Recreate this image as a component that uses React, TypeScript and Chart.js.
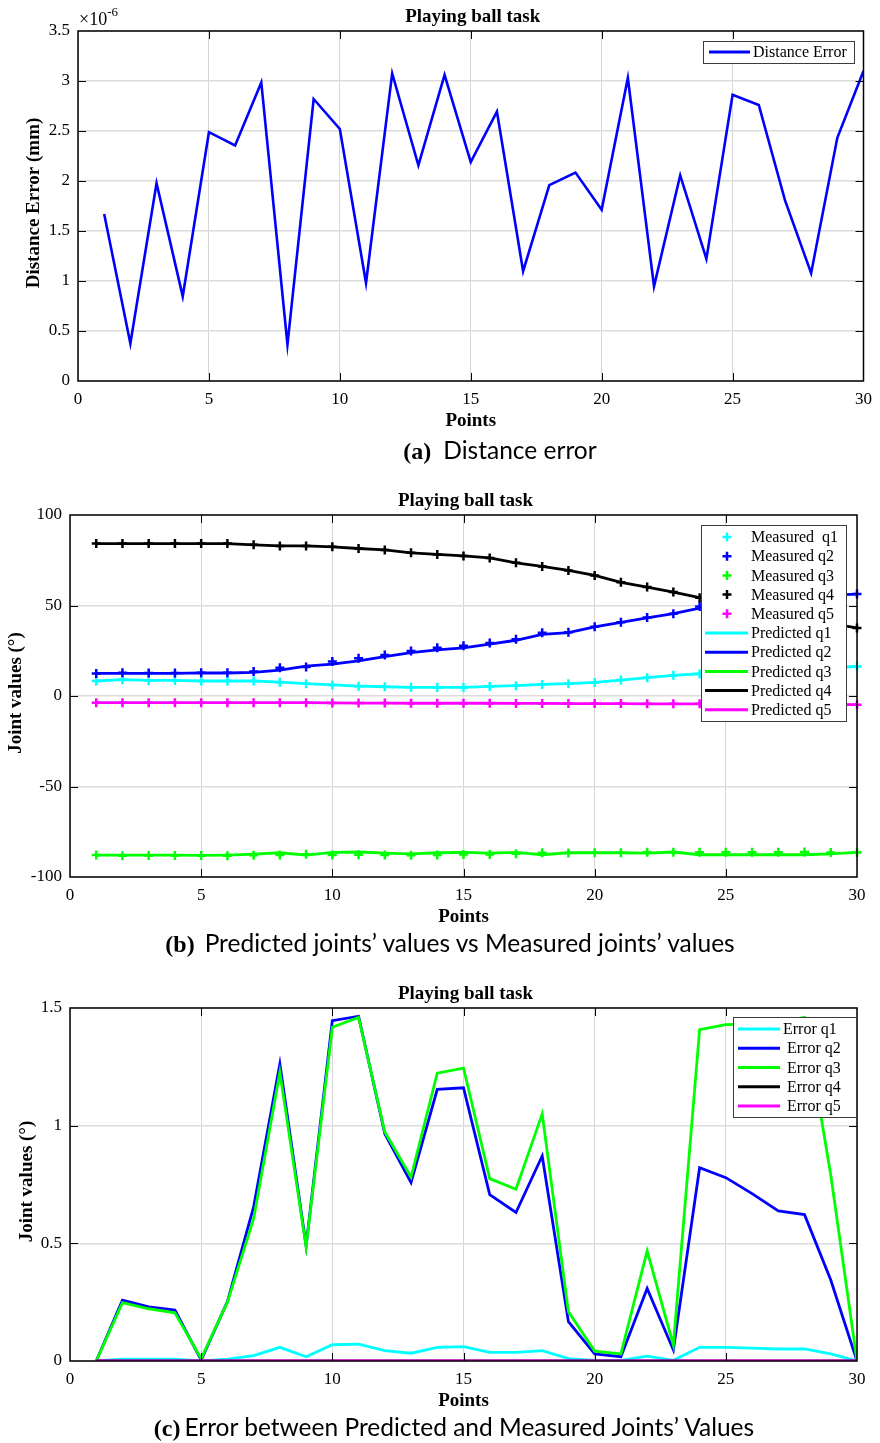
import React, { useEffect, useRef } from "react";
import { Chart, registerables } from "chart.js";

Chart.register(...registerables);

// ---------------- DATA ----------------
const POINTS = [
  1, 2, 3, 4, 5, 6, 7, 8, 9, 10, 11, 12, 13, 14, 15, 16, 17, 18, 19, 20, 21, 22, 23, 24, 25, 26, 27, 28, 29, 30,
];

// (a) Distance error, in units of 1e-6 mm
const distanceError = [
  1.67, 0.375, 1.977, 0.846, 2.488, 2.356, 2.986, 0.365, 2.82, 2.52, 0.98, 3.076, 2.157, 3.062, 2.19, 2.694, 1.098,
  1.958, 2.084, 1.712, 3.03, 0.946, 2.057, 1.221, 2.863, 2.76, 1.808, 1.078, 2.432, 3.1,
];
const A_Y_TICKS = { min: 0, max: 3.5, step: 0.5 };

// (b) Joint values (degrees)
const predQ1 = [
  8.3, 9.0, 8.6, 8.6, 8.3, 8.3, 8.3, 7.7, 6.8, 6.2, 5.5, 5.1, 4.8, 4.8, 4.8, 5.3, 5.7, 6.4, 6.8, 7.5, 8.8, 10.1, 11.4,
  12.3, 13.0, 13.7, 14.4, 15.0, 15.7, 16.3,
];
const measQ1 = [
  8.3, 9.0, 8.6, 8.6, 8.3, 8.3, 8.3, 7.6, 6.8, 6.1, 5.4, 5.1, 4.8, 4.7, 4.7, 5.3, 5.7, 6.4, 6.8, 7.5, 8.8, 10.1, 11.4,
  12.2, 12.9, 13.6, 14.3, 15.0, 15.7, 16.3,
];
const predQ2 = [
  12.5, 12.5, 12.5, 12.5, 12.8, 12.7, 13.0, 14.3, 16.5, 17.6, 19.4, 21.7, 24.0, 25.5, 26.6, 28.6, 30.8, 34.0, 35.0,
  38.2, 40.7, 43.1, 45.5, 48.6, 50.5, 52.1, 53.5, 54.8, 55.7, 56.3,
];
const measQ2 = [
  12.5, 12.8, 12.7, 12.7, 12.8, 12.9, 13.6, 15.6, 16.0, 19.0, 20.9, 22.7, 24.8, 26.7, 27.8, 29.3, 31.4, 34.9, 35.2,
  38.2, 40.7, 43.4, 45.5, 49.4, 51.3, 52.8, 54.1, 55.4, 56.0, 56.3,
];
const predQ3 = [
  -87.9, -87.9, -87.9, -87.9, -88.1, -87.9, -87.4, -86.6, -87.9, -86.4, -86.2, -86.8, -87.2, -86.6, -86.4, -86.8,
  -86.4, -87.7, -86.6, -86.6, -86.6, -86.8, -86.2, -87.7, -87.7, -87.7, -87.7, -87.7, -87.2, -86.4,
];
const measQ3 = [
  -87.9, -88.2, -88.1, -88.1, -88.1, -88.2, -88.0, -87.8, -87.4, -87.8, -87.7, -87.8, -88.0, -87.8, -87.6, -87.6,
  -87.1, -86.6, -86.8, -86.6, -86.6, -86.3, -86.3, -86.3, -86.3, -86.3, -86.3, -86.2, -86.4, -86.4,
];
const predQ4 = [
  84.2, 84.2, 84.2, 84.2, 84.2, 84.2, 83.5, 82.9, 82.9, 82.4, 81.5, 80.7, 79.1, 78.2, 77.4, 76.3, 73.6, 71.6, 69.4,
  66.6, 62.8, 60.2, 57.4, 54.3, 51.2, 48.3, 45.5, 42.6, 40.0, 37.6,
];
const measQ4 = [
  84.2, 84.2, 84.2, 84.2, 84.2, 84.2, 83.5, 82.9, 82.9, 82.4, 81.5, 80.7, 79.1, 78.2, 77.4, 76.3, 73.6, 71.6, 69.4,
  66.6, 62.8, 60.2, 57.4, 54.3, 51.2, 48.3, 45.5, 42.6, 40.0, 37.6,
];
const predQ5 = [
  -3.7, -3.7, -3.7, -3.7, -3.7, -3.7, -3.7, -3.7, -3.7, -3.8, -3.9, -3.9, -4.0, -4.0, -4.0, -4.0, -4.1, -4.1, -4.2,
  -4.2, -4.2, -4.3, -4.3, -4.3, -4.4, -4.5, -4.5, -4.6, -4.7, -4.8,
];
const measQ5 = [
  -3.7, -3.7, -3.7, -3.7, -3.7, -3.7, -3.7, -3.7, -3.7, -3.8, -3.9, -3.9, -4.0, -4.0, -4.0, -4.0, -4.1, -4.1, -4.2,
  -4.2, -4.2, -4.3, -4.3, -4.3, -4.4, -4.5, -4.5, -4.6, -4.7, -4.8,
];
const B_Y_TICKS = { min: -100, max: 100, step: 50 };

// (c) Errors (degrees)
const errQ1 = [
  0, 0.008, 0.008, 0.008, 0, 0.008, 0.023, 0.058, 0.018, 0.069, 0.072, 0.044, 0.033, 0.058, 0.061, 0.037, 0.037, 0.044,
  0.01, 0.003, 0.003, 0.021, 0.003, 0.058, 0.058, 0.055, 0.051, 0.051, 0.03, 0,
];
const errQ2 = [
  0, 0.259, 0.23, 0.216, 0.004, 0.252, 0.655, 1.262, 0.49, 1.446, 1.465, 0.966, 0.758, 1.154, 1.161, 0.707, 0.631,
  0.871, 0.167, 0.03, 0.018, 0.308, 0.047, 0.821, 0.779, 0.711, 0.638, 0.622, 0.344, 0,
];
const errQ3 = [
  0, 0.248, 0.222, 0.205, 0.01, 0.25, 0.605, 1.227, 0.485, 1.418, 1.46, 0.973, 0.782, 1.223, 1.245, 0.775, 0.73, 1.05,
  0.209, 0.042, 0.03, 0.468, 0.068, 1.408, 1.429, 1.432, 1.44, 1.46, 0.79, 0,
];
const errQ4 = [
  0, 0, 0, 0, 0, 0, 0, 0, 0, 0, 0, 0, 0, 0, 0, 0, 0, 0, 0, 0, 0, 0, 0, 0, 0, 0, 0, 0, 0, 0,
];
const errQ5 = [
  0, 0, 0, 0, 0, 0, 0, 0, 0, 0, 0, 0, 0, 0, 0, 0, 0, 0, 0, 0, 0, 0, 0, 0, 0, 0, 0, 0, 0, 0,
];
const C_Y_TICKS = { min: 0, max: 1.5, step: 0.5 };

const X_TICKS = { min: 0, max: 30, step: 5 };

const CHART_TITLE = "Playing ball task";
const X_TITLE = "Points";

const COLORS = ["#00ffff", "#0000ff", "#00ff00", "#000000", "#ff00ff"];

// ---------------- HELPERS ----------------
const SERIF = "'Liberation Serif', 'Times New Roman', serif";

const pts = (ys: number[]) => POINTS.map((x, i) => ({ x, y: ys[i] }));

type LegendItem = { kind: "line" | "marker"; color: string; label: string; textX?: number };
type LegendSpec = {
  x: number;
  y: number;
  w: number;
  h: number;
  firstRow: number;
  rowH: number;
  lineX0: number;
  lineX1: number;
  markX: number;
  textX: number;
  items: LegendItem[];
};

type Spec = {
  canvasH: number;
  area: { top: number; left: number; right: number; bottom: number };
  yTicks: { min: number; max: number; step: number };
  yTitle: string;
  yTitleX: number;
  datasets: any[];
  legend: LegendSpec;
  exponent?: boolean;
};

function drawCross(ctx: CanvasRenderingContext2D, x: number, y: number, r: number) {
  ctx.beginPath();
  ctx.moveTo(x - r, y);
  ctx.lineTo(x + r, y);
  ctx.moveTo(x, y - r);
  ctx.lineTo(x, y + r);
  ctx.stroke();
}

function makePlugin(spec: Spec) {
  return {
    id: "matlabFrame",
    afterDatasetsDraw(chart: any) {
      const { ctx, chartArea, scales } = chart;
      const { left, right, top, bottom } = chartArea;
      ctx.save();
      ctx.strokeStyle = "#000";
      ctx.lineWidth = 1;
      const TL = 8;
      scales.x.ticks.forEach((t: any) => {
        const px = Math.round(scales.x.getPixelForValue(t.value)) + 0.5;
        if (px <= left + 1 || px >= right - 1) return;
        ctx.beginPath();
        ctx.moveTo(px, bottom);
        ctx.lineTo(px, bottom - TL);
        ctx.moveTo(px, top);
        ctx.lineTo(px, top + TL);
        ctx.stroke();
      });
      scales.y.ticks.forEach((t: any) => {
        const py = Math.round(scales.y.getPixelForValue(t.value)) + 0.5;
        if (py <= top + 1 || py >= bottom - 1) return;
        ctx.beginPath();
        ctx.moveTo(left, py);
        ctx.lineTo(left + TL, py);
        ctx.moveTo(right, py);
        ctx.lineTo(right - TL, py);
        ctx.stroke();
      });
      ctx.lineWidth = 1.5;
      ctx.strokeRect(left, top, right - left, bottom - top);
      ctx.restore();
    },
    afterDraw(chart: any) {
      const { ctx, chartArea } = chart;
      const { left, right, top, bottom } = chartArea;
      const cx = (left + right) / 2;
      const cy = (top + bottom) / 2;
      ctx.save();
      ctx.fillStyle = "#000";
      ctx.textAlign = "center";
      ctx.textBaseline = "middle";
      ctx.font = `bold 19px ${SERIF}`;
      ctx.fillText(CHART_TITLE, cx + 2, top - 14);
      ctx.fillText(X_TITLE, cx, bottom + 40);
      ctx.save();
      ctx.translate(spec.yTitleX, cy - 3);
      ctx.rotate(-Math.PI / 2);
      ctx.fillText(spec.yTitle, 0, 0);
      ctx.restore();

      if (spec.exponent) {
        ctx.textAlign = "left";
        ctx.textBaseline = "alphabetic";
        ctx.fillStyle = "#000";
        ctx.font = `18px ${SERIF}`;
        const base = "\u00d710";
        ctx.fillText(base, left + 1, top - 6);
        const w = ctx.measureText(base).width;
        ctx.font = `13px ${SERIF}`;
        ctx.fillText("-6", left + 1 + w, top - 15);
      }

      // legend
      const L = spec.legend;
      ctx.fillStyle = "#fff";
      ctx.fillRect(L.x, L.y, L.w, L.h);
      ctx.strokeStyle = "#3c3c3c";
      ctx.lineWidth = 1;
      ctx.strokeRect(L.x + 0.5, L.y + 0.5, L.w, L.h);
      ctx.font = `16px ${SERIF}`;
      ctx.textAlign = "left";
      ctx.textBaseline = "middle";
      L.items.forEach((it, i) => {
        const ry = L.y + L.firstRow + i * L.rowH;
        ctx.strokeStyle = it.color;
        if (it.kind === "line") {
          ctx.lineWidth = 3;
          ctx.beginPath();
          ctx.moveTo(L.lineX0, ry);
          ctx.lineTo(L.lineX1, ry);
          ctx.stroke();
        } else {
          ctx.lineWidth = 2.5;
          drawCross(ctx, L.markX, ry, 4.5);
        }
        ctx.fillStyle = "#000";
        ctx.fillText(it.label, it.textX ?? L.textX, ry + 1);
      });
      ctx.restore();
    },
  };
}

function makeConfig(spec: Spec): any {
  const { area, canvasH, yTicks } = spec;
  const tickFont = { family: SERIF, size: 17 };
  return {
    type: "line",
    data: { datasets: spec.datasets },
    plugins: [makePlugin(spec)],
    options: {
      animation: false,
      responsive: false,
      devicePixelRatio: 1,
      events: [],
      layout: { padding: { top: area.top, left: 0, right: 880 - area.right, bottom: 0 } },
      plugins: { legend: { display: false }, tooltip: { enabled: false }, title: { display: false } },
      scales: {
        x: {
          type: "linear",
          min: X_TICKS.min,
          max: X_TICKS.max,
          ticks: {
            stepSize: X_TICKS.step,
            font: tickFont,
            color: "#000",
            padding: 8,
            maxRotation: 0,
            callback: (v: number) => String(v),
          },
          grid: { color: "#d6d6d6", lineWidth: 1, drawTicks: false },
          border: { display: false },
          afterFit: (s: any) => {
            s.height = canvasH - area.bottom;
          },
        },
        y: {
          type: "linear",
          min: yTicks.min,
          max: yTicks.max,
          ticks: {
            stepSize: yTicks.step,
            font: tickFont,
            color: "#000",
            padding: 8,
            callback: (v: number) => String(v),
          },
          grid: { color: "#dcdcdc", lineWidth: 1.5, drawTicks: false },
          border: { display: false },
          afterFit: (s: any) => {
            s.width = area.left;
          },
        },
      },
    },
  };
}

const lineDs = (label: string, ys: number[], color: string, order: number, width = 2.6) => ({
  label,
  data: pts(ys),
  borderColor: color,
  backgroundColor: color,
  borderWidth: width,
  pointRadius: 0,
  tension: 0,
  fill: false,
  order,
});

const markerDs = (label: string, ys: number[], color: string, order: number) => ({
  label,
  data: pts(ys),
  showLine: false,
  borderColor: color,
  backgroundColor: color,
  pointStyle: "cross",
  pointRadius: 4.5,
  pointBorderWidth: 2.5,
  pointBorderColor: color,
  clip: false,
  order,
});

// ---------------- SPECS ----------------
const TOP_A = 0;
const TOP_B = 480;
const TOP_C = 970;

const specA: Spec = {
  canvasH: 445,
  area: { top: 31, left: 78, right: 864, bottom: 381 },
  yTicks: A_Y_TICKS,
  yTitle: "Distance Error (mm)",
  yTitleX: 34,
  exponent: true,
  datasets: [lineDs("Distance Error", distanceError, "#0000ff", 1, 2.6)],
  legend: {
    x: 703,
    y: 41,
    w: 151,
    h: 22,
    firstRow: 11,
    rowH: 19,
    lineX0: 709,
    lineX1: 750,
    markX: 0,
    textX: 753,
    items: [{ kind: "line", color: "#0000ff", label: "Distance Error" }],
  },
};

const measuredB = [measQ1, measQ2, measQ3, measQ4, measQ5];
const predictedB = [predQ1, predQ2, predQ3, predQ4, predQ5];

const specB: Spec = {
  canvasH: 460,
  area: { top: 515 - TOP_B, left: 70, right: 857, bottom: 877 - TOP_B },
  yTicks: B_Y_TICKS,
  yTitle: "Joint values (\u00b0)",
  yTitleX: 16,
  datasets: [
    ...predictedB.map((ys, i) => lineDs(`Predicted q${i + 1}`, ys, COLORS[i], 20 - i, 2.8)),
    ...measuredB.map((ys, i) => markerDs(`Measured q${i + 1}`, ys, COLORS[i], 10 - i)),
  ],
  legend: {
    x: 701,
    y: 525 - TOP_B,
    w: 145,
    h: 196,
    firstRow: 12,
    rowH: 19.2,
    lineX0: 705,
    lineX1: 748,
    markX: 727,
    textX: 751,
    items: [
      { kind: "marker", color: COLORS[0], label: "Measured  q1" },
      { kind: "marker", color: COLORS[1], label: "Measured q2" },
      { kind: "marker", color: COLORS[2], label: "Measured q3" },
      { kind: "marker", color: COLORS[3], label: "Measured q4" },
      { kind: "marker", color: COLORS[4], label: "Measured q5" },
      { kind: "line", color: COLORS[0], label: "Predicted q1" },
      { kind: "line", color: COLORS[1], label: "Predicted q2" },
      { kind: "line", color: COLORS[2], label: "Predicted q3" },
      { kind: "line", color: COLORS[3], label: "Predicted q4" },
      { kind: "line", color: COLORS[4], label: "Predicted q5" },
    ],
  },
};

const errorsC = [errQ1, errQ2, errQ3, errQ4, errQ5];

const specC: Spec = {
  canvasH: 445,
  area: { top: 1008 - TOP_C, left: 70, right: 857, bottom: 1361 - TOP_C },
  yTicks: C_Y_TICKS,
  yTitle: "Joint values (\u00b0)",
  yTitleX: 27,
  datasets: errorsC.map((ys, i) => lineDs(`Error q${i + 1}`, ys, COLORS[i], 10 - i, 2.8)),
  legend: {
    x: 733,
    y: 1017 - TOP_C,
    w: 123,
    h: 100,
    firstRow: 12,
    rowH: 19.25,
    lineX0: 738,
    lineX1: 780,
    markX: 0,
    textX: 787,
    items: [
      { kind: "line", color: COLORS[0], label: "Error q1", textX: 783 },
      { kind: "line", color: COLORS[1], label: "Error q2" },
      { kind: "line", color: COLORS[2], label: "Error q3" },
      { kind: "line", color: COLORS[3], label: "Error q4" },
      { kind: "line", color: COLORS[4], label: "Error q5" },
    ],
  },
};

// ---------------- COMPONENTS ----------------
function PlotCanvas({ top, spec }: { top: number; spec: Spec }) {
  const ref = useRef<HTMLCanvasElement>(null);
  useEffect(() => {
    if (!ref.current) return;
    const chart = new Chart(ref.current, makeConfig(spec));
    return () => chart.destroy();
  }, []);
  return (
    <canvas
      ref={ref}
      width={880}
      height={spec.canvasH}
      style={{ position: "absolute", left: 0, top, width: 880, height: spec.canvasH }}
    />
  );
}

function Caption({ cx, cy, tag, text, gap }: { cx: number; cy: number; tag: string; text: string; gap: number }) {
  return (
    <div
      style={{
        position: "absolute",
        left: cx - 400,
        width: 800,
        top: cy - 16,
        height: 32,
        lineHeight: "32px",
        textAlign: "center",
        whiteSpace: "nowrap",
        color: "#000",
      }}
    >
      <span style={{ fontFamily: SERIF, fontWeight: "bold", fontSize: 24 }}>{tag}</span>
      <span style={{ fontFamily: "Lato, 'Open Sans', sans-serif", fontSize: 24.5, marginLeft: gap }}>{text}</span>
    </div>
  );
}

export default function App() {
  return (
    <div
      style={{
        position: "absolute",
        left: 0,
        top: 0,
        width: 880,
        height: 1443,
        background: "#fff",
        overflow: "hidden",
      }}
    >
      <PlotCanvas top={TOP_A} spec={specA} />
      <PlotCanvas top={TOP_B} spec={specB} />
      <PlotCanvas top={TOP_C} spec={specC} />
      <Caption cx={500} cy={450} tag="(a)" text="Distance error" gap={12} />
      <Caption cx={450} cy={943} tag="(b)" text={"Predicted joints\u2019 values vs Measured joints\u2019 values"} gap={10} />
      <Caption cx={454} cy={1427} tag="(c)" text={"Error between Predicted and Measured Joints\u2019 Values"} gap={4} />
    </div>
  );
}
